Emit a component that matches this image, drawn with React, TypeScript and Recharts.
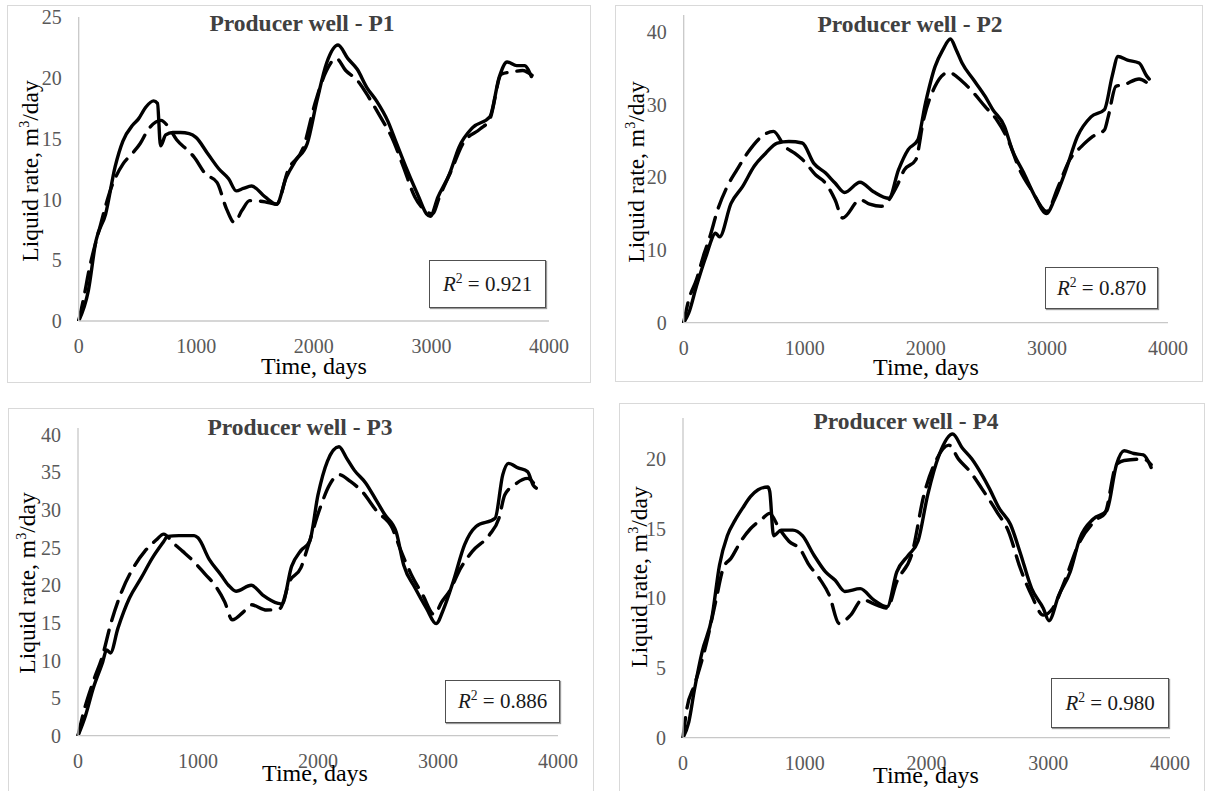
import { LineChart, Line, XAxis, YAxis } from "recharts";

type Pt = [number, number];

const FONT = '"Liberation Serif", "Times New Roman", serif';
const X_TICKS = [0, 1000, 2000, 3000, 4000];

// time (days), liquid rate (m3/day) — solid = observed, dashed = model
const P1_SOLID: Pt[] = [[0,0],[82,2.5],[147,6.6],[229,8.8],[310,12.7],[376,14.8],[458,16.1],[507,16.6],[572,17.6],[637,18.1],[670,17.9],[696,14.4],[740,15.3],[800,15.5],[866,15.5],[940,15.4],[997,15.1],[1095,13.8],[1193,12.5],[1275,11.7],[1340,10.7],[1400,10.9],[1471,11.1],[1585,10.2],[1683,9.6],[1765,11.8],[1846,13.2],[1944,14.6],[2026,18.1],[2108,21.2],[2206,22.7],[2288,21.6],[2369,20.7],[2451,19.2],[2533,18.1],[2631,16.4],[2696,14.8],[2794,12.4],[2892,10.2],[2958,8.8],[2990,8.6],[3056,10.2],[3154,12.1],[3235,14.3],[3350,15.9],[3497,16.8],[3578,20.1],[3644,21.3],[3725,21.0],[3791,21.0],[3850,20.1]];
const P1_DASHED: Pt[] = [[0,0],[49,2.2],[82,3.9],[180,7.7],[278,11.0],[376,12.9],[458,13.8],[523,14.6],[588,15.7],[700,16.5],[760,16.0],[833,14.9],[931,14.0],[980,13.5],[1078,12.1],[1176,11.4],[1258,9.2],[1324,8.1],[1389,9.1],[1454,9.9],[1585,9.8],[1683,9.6],[1781,12.4],[1912,14.3],[2010,17.9],[2108,20.6],[2190,21.6],[2271,20.6],[2369,19.8],[2467,18.4],[2565,16.8],[2663,15.1],[2761,12.7],[2859,10.2],[2958,9.0],[3007,8.8],[3072,10.3],[3170,12.4],[3268,14.6],[3415,15.8],[3497,16.6],[3595,20.3],[3700,20.5],[3775,20.6],[3856,20.2]];

const P2_SOLID: Pt[] = [[0,0],[41,1.3],[105,5.0],[184,9.1],[264,12.3],[296,11.8],[391,16.4],[486,18.7],[582,21.5],[677,23.3],[773,24.7],[868,24.9],[979,24.7],[1075,21.9],[1170,20.6],[1250,19.2],[1329,17.9],[1456,19.3],[1568,18.0],[1695,17.1],[1774,21.0],[1854,23.8],[1933,25.1],[1997,30.2],[2076,35.2],[2140,37.5],[2203,39.0],[2251,37.5],[2299,35.7],[2394,33.4],[2490,31.1],[2553,29.3],[2649,27.0],[2712,23.8],[2808,20.6],[2903,17.3],[2998,15.0],[3061,16.9],[3157,21.0],[3252,25.6],[3364,28.3],[3475,29.3],[3539,33.9],[3587,36.6],[3666,36.1],[3761,35.7],[3825,33.9],[3845,33.5]];
const P2_DASHED: Pt[] = [[0,0],[41,3.1],[105,5.9],[169,9.5],[216,11.8],[280,15.5],[359,18.7],[439,21.0],[534,23.5],[645,25.6],[741,26.3],[836,24.2],[916,23.3],[995,22.2],[1091,20.3],[1170,19.2],[1250,16.9],[1313,14.4],[1457,16.9],[1536,16.3],[1631,16.0],[1758,18.7],[1822,21.0],[1917,22.4],[1981,27.9],[2076,32.5],[2187,34.4],[2299,33.2],[2394,31.6],[2490,29.7],[2585,27.9],[2680,25.1],[2776,21.0],[2871,18.3],[2998,15.3],[3093,18.7],[3188,22.4],[3284,24.2],[3379,25.6],[3475,26.5],[3506,28.3],[3570,32.5],[3634,32.7],[3761,33.5],[3857,32.5]];

const P3_SOLID: Pt[] = [[0,0],[63,2.7],[127,6.3],[206,9.8],[238,11.4],[270,11.0],[333,14.3],[429,18.3],[524,20.9],[619,23.6],[714,25.8],[746,26.5],[841,26.6],[968,26.6],[1000,26.3],[1095,23.4],[1190,21.4],[1254,20.0],[1317,19.2],[1444,20.0],[1540,18.7],[1667,17.6],[1700,17.5],[1780,22.5],[1857,24.6],[1930,25.8],[2000,32.0],[2079,36.5],[2175,38.4],[2238,36.9],[2302,35.3],[2397,33.6],[2492,31.1],[2556,29.4],[2651,27.1],[2714,22.7],[2810,19.6],[2905,16.9],[2984,14.9],[3048,16.9],[3127,20.5],[3222,25.4],[3317,27.8],[3476,28.9],[3540,34.7],[3587,36.2],[3667,35.6],[3746,35.1],[3794,33.3],[3819,32.9]];
const P3_DASHED: Pt[] = [[0,0],[48,3.2],[127,7.2],[206,10.7],[270,14.7],[365,19.2],[460,22.3],[556,24.5],[651,26.0],[714,26.8],[794,25.6],[873,24.5],[968,23.1],[1063,21.4],[1127,20.3],[1222,17.8],[1286,15.4],[1381,16.5],[1444,17.4],[1571,16.7],[1682,16.9],[1762,20.5],[1857,22.3],[1921,25.4],[2016,30.2],[2095,33.3],[2175,34.7],[2270,33.8],[2365,32.5],[2492,29.8],[2619,27.6],[2683,24.9],[2778,21.4],[2873,18.7],[2968,16.1],[3032,17.8],[3095,19.2],[3190,22.3],[3286,24.5],[3429,26.7],[3508,28.9],[3556,32.0],[3635,33.3],[3746,34.2],[3810,33.3]];

const P4_SOLID: Pt[] = [[0,0],[47,1.1],[95,3.5],[158,6.2],[237,8.6],[300,12.4],[364,14.5],[427,15.6],[491,16.5],[554,17.3],[617,17.8],[696,18.0],[712,17.7],[744,14.5],[807,14.9],[902,14.9],[981,14.5],[1076,13.1],[1171,11.9],[1250,11.3],[1329,10.5],[1456,10.7],[1566,9.9],[1677,9.4],[1756,11.9],[1851,13.1],[1930,14.1],[2009,17.4],[2104,20.3],[2215,21.8],[2294,20.8],[2373,20.0],[2453,18.9],[2516,17.9],[2595,16.5],[2690,15.3],[2769,13.3],[2864,10.7],[2959,9.3],[3006,8.4],[3085,10.2],[3180,11.9],[3259,14.3],[3370,15.7],[3481,16.3],[3560,19.6],[3623,20.6],[3703,20.4],[3782,20.3],[3845,19.4]];
const P4_DASHED: Pt[] = [[0,0],[32,2.1],[95,3.8],[190,6.7],[269,9.8],[332,12.2],[396,12.9],[475,14.1],[554,15.0],[649,15.7],[712,16.1],[791,15.0],[870,14.1],[965,13.5],[1028,12.5],[1123,11.4],[1203,10.2],[1282,8.2],[1377,8.8],[1472,9.9],[1598,9.5],[1677,9.3],[1756,11.2],[1883,13.3],[1978,17.4],[2073,19.8],[2184,21.0],[2263,20.0],[2358,19.1],[2453,17.9],[2579,16.2],[2674,14.8],[2769,12.2],[2864,10.2],[2959,8.8],[3038,9.3],[3133,11.2],[3244,13.8],[3402,15.7],[3465,16.1],[3560,19.6],[3623,19.9],[3782,20.0],[3845,19.6]];

const Y_TICKS_25 = [0, 5, 10, 15, 20, 25];
const Y_TICKS_40 = [0, 10, 20, 30, 40];
const Y_TICKS_40_5 = [0, 5, 10, 15, 20, 25, 30, 35, 40];
const Y_TICKS_20 = [0, 5, 10, 15, 20];

const toRows = (pts: Pt[]) => pts.map(([t, v]) => ({ t, v }));

type Box = { left: number; top: number; w: number; h: number };

type PanelProps = {
  title: string;
  r2: string;
  frame: Box; // page coords
  plot: Box; // relative to frame
  yMax: number;
  yTicks: number[];
  solid: Pt[];
  dashed: Pt[];
  titleAt: [number, number];
  xLabelAt: [number, number];
  yLabelAt: [number, number];
  r2Box: Box;
};

const AXIS_TICK = { fontSize: 20, fill: "#595959", fontFamily: FONT };
const AXIS_LINE = { stroke: "#c8c8c8", strokeWidth: 1.3 };

function Panel(p: PanelProps) {
  const yw = 50;
  const xh = 30;
  const margin = {
    left: p.plot.left - yw,
    top: p.plot.top,
    right: p.frame.w - p.plot.left - p.plot.w,
    bottom: p.frame.h - p.plot.top - p.plot.h - xh,
  };
  return (
    <>
      <div
        style={{
          position: "absolute",
          left: p.frame.left,
          top: p.frame.top,
          width: p.frame.w,
          height: p.frame.h,
          boxSizing: "border-box",
          border: "1px solid #d9d9d9",
        }}
      />
      <div style={{ position: "absolute", left: p.frame.left, top: p.frame.top }}>
        <LineChart width={p.frame.w} height={p.frame.h} margin={margin}>
          <XAxis
            type="number"
            dataKey="t"
            domain={[0, 4000]}
            ticks={X_TICKS}
            height={xh}
            tick={AXIS_TICK}
            tickLine={false}
            tickMargin={12}
            axisLine={AXIS_LINE}
            allowDuplicatedCategory={false}
          />
          <YAxis
            type="number"
            dataKey="v"
            domain={[0, p.yMax]}
            ticks={p.yTicks}
            width={yw}
            tick={AXIS_TICK}
            tickLine={false}
            tickMargin={11}
            axisLine={AXIS_LINE}
            allowDataOverflow
          />
          <Line
            data={toRows(p.dashed)}
            dataKey="v"
            type="monotone"
            stroke="#000"
            strokeWidth={3.4}
            strokeDasharray="20 10"
            strokeLinecap="round"
            dot={false}
            isAnimationActive={false}
          />
          <Line
            data={toRows(p.solid)}
            dataKey="v"
            type="monotone"
            stroke="#000"
            strokeWidth={3.4}
            strokeLinecap="round"
            strokeLinejoin="round"
            dot={false}
            isAnimationActive={false}
          />
        </LineChart>
      </div>
      <div
        style={{
          position: "absolute",
          left: p.titleAt[0],
          top: p.titleAt[1],
          transform: "translate(-50%, -50%)",
          fontFamily: FONT,
          fontWeight: "bold",
          fontSize: 23.5,
          lineHeight: 1,
          color: "#404040",
          whiteSpace: "nowrap",
        }}
      >
        {p.title}
      </div>
      <div
        style={{
          position: "absolute",
          left: p.xLabelAt[0],
          top: p.xLabelAt[1],
          transform: "translate(-50%, -50%)",
          fontFamily: FONT,
          fontSize: 24,
          lineHeight: 1,
          color: "#000",
          whiteSpace: "nowrap",
        }}
      >
        Time, days
      </div>
      <div
        style={{
          position: "absolute",
          left: p.yLabelAt[0],
          top: p.yLabelAt[1],
          transform: "translate(-50%, -50%) rotate(-90deg)",
          fontFamily: FONT,
          fontSize: 23.5,
          color: "#000",
          whiteSpace: "nowrap",
          lineHeight: 1,
        }}
      >
        Liquid rate, m<sup style={{ fontSize: "0.6em", lineHeight: 0 }}>3</sup>/day
      </div>
      <div
        style={{
          position: "absolute",
          left: p.r2Box.left,
          top: p.r2Box.top,
          width: p.r2Box.w,
          height: p.r2Box.h,
          boxSizing: "border-box",
          border: "1px solid #505050",
          boxShadow: "1px 1px 1px #999",
          background: "#fff",
          display: "flex",
          alignItems: "center",
          justifyContent: "center",
          fontFamily: FONT,
          fontSize: 21,
          color: "#1a1a1a",
          whiteSpace: "nowrap",
        }}
      >
        <span>
          <i>R</i>
          <sup style={{ fontSize: "0.65em", lineHeight: 0 }}>2</sup> = {p.r2}
        </span>
      </div>
    </>
  );
}

export default function App() {
  return (
    <div
      style={{
        position: "absolute",
        left: 0,
        top: 0,
        width: 1208,
        height: 791,
        overflow: "hidden",
        background: "#fff",
      }}
    >
      <Panel
        title="Producer well - P1"
        r2="0.921"
        frame={{ left: 7, top: 5, w: 584, h: 378 }}
        plot={{ left: 71.7, top: 12, w: 470.3, h: 304 }}
        yMax={25}
        yTicks={Y_TICKS_25}
        solid={P1_SOLID}
        dashed={P1_DASHED}
        titleAt={[302, 24]}
        xLabelAt={[314, 366]}
        yLabelAt={[31, 171]}
        r2Box={{ left: 429, top: 260, w: 117, h: 48 }}
      />
      <Panel
        title="Producer well - P2"
        r2="0.870"
        frame={{ left: 615, top: 5, w: 588, h: 377 }}
        plot={{ left: 68.7, top: 10, w: 484.3, h: 307.7 }}
        yMax={42.3}
        yTicks={Y_TICKS_40}
        solid={P2_SOLID}
        dashed={P2_DASHED}
        titleAt={[910, 25]}
        xLabelAt={[926, 367]}
        yLabelAt={[637, 172]}
        r2Box={{ left: 1045, top: 267, w: 113, h: 42 }}
      />
      <Panel
        title="Producer well - P3"
        r2="0.886"
        frame={{ left: 8, top: 408, w: 586, h: 395 }}
        plot={{ left: 70, top: 20, w: 480, h: 307.7 }}
        yMax={40.9}
        yTicks={Y_TICKS_40_5}
        solid={P3_SOLID}
        dashed={P3_DASHED}
        titleAt={[300, 428]}
        xLabelAt={[315, 773]}
        yLabelAt={[28, 583]}
        r2Box={{ left: 445, top: 680, w: 115, h: 43 }}
      />
      <Panel
        title="Producer well - P4"
        r2="0.980"
        frame={{ left: 619, top: 403, w: 586, h: 395 }}
        plot={{ left: 64, top: 15, w: 487, h: 319.7 }}
        yMax={22.95}
        yTicks={Y_TICKS_20}
        solid={P4_SOLID}
        dashed={P4_DASHED}
        titleAt={[906, 422]}
        xLabelAt={[926, 775]}
        yLabelAt={[640, 577]}
        r2Box={{ left: 1051, top: 678, w: 118, h: 50 }}
      />
    </div>
  );
}
